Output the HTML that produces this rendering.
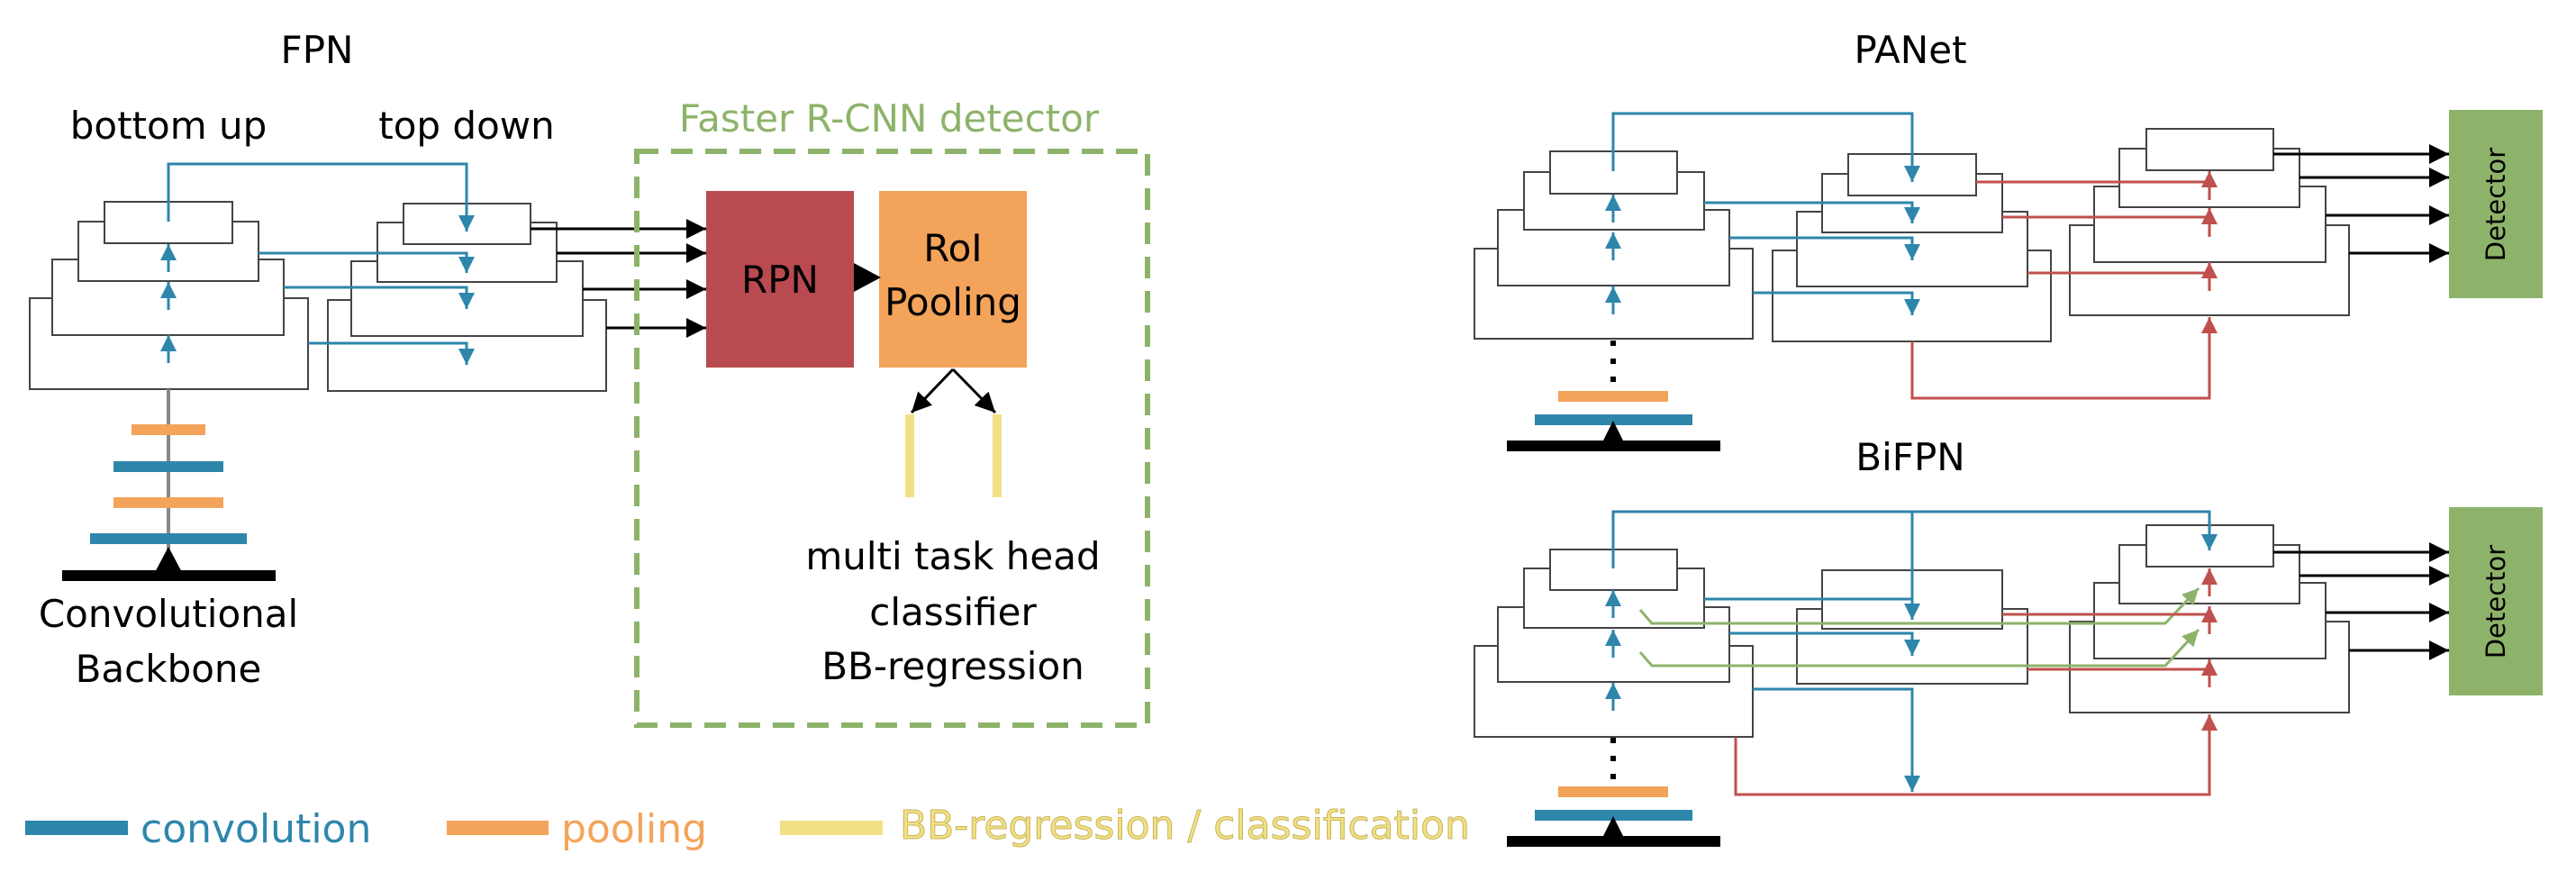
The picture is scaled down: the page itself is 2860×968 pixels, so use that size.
<!DOCTYPE html>
<html><head><meta charset="utf-8"><style>
html,body{margin:0;padding:0;background:#fff;}
svg{display:block;font-family:"DejaVu Sans","Liberation Sans",sans-serif;}
</style></head><body>
<svg width="2860" height="968" viewBox="0 0 2860 968" xmlns="http://www.w3.org/2000/svg">
<defs>
<marker id="ab" viewBox="0 0 10 10" refX="10" refY="5" markerWidth="20" markerHeight="18" markerUnits="userSpaceOnUse" orient="auto"><path d="M0,0 L10,5 L0,10 z" fill="#2e86ab"/></marker>
<marker id="ar" viewBox="0 0 10 10" refX="10" refY="5" markerWidth="20" markerHeight="18" markerUnits="userSpaceOnUse" orient="auto"><path d="M0,0 L10,5 L0,10 z" fill="#c0504d"/></marker>
<marker id="ag" viewBox="0 0 10 10" refX="10" refY="5" markerWidth="20" markerHeight="18" markerUnits="userSpaceOnUse" orient="auto"><path d="M0,0 L10,5 L0,10 z" fill="#8db36a"/></marker>
<marker id="ak" viewBox="0 0 10 10" refX="10" refY="5" markerWidth="22" markerHeight="22" markerUnits="userSpaceOnUse" orient="auto"><path d="M0,0 L10,5 L0,10 z" fill="#000"/></marker>
</defs>

<g font-size="42" text-anchor="middle" fill="#000">
<text x="352" y="70">FPN</text>
<text x="187" y="154">bottom up</text>
<text x="518" y="154">top down</text>
<text x="2121" y="70">PANet</text>
<text x="2121" y="522">BiFPN</text>
<text x="187" y="696">Convolutional</text>
<text x="187" y="757">Backbone</text>
<text x="1058" y="632">multi task head</text>
<text x="1058" y="694">classifier</text>
<text x="1058" y="754">BB-regression</text>
<text x="987" y="146" fill="#8db36a">Faster R-CNN detector</text>
</g>

<g fill="#fff" stroke="#444" stroke-width="2">
<rect x="33" y="331" width="309" height="101"/>
<rect x="58" y="288" width="257" height="84"/>
<rect x="87" y="246" width="200" height="66"/>
<rect x="116" y="224" width="142" height="46"/>
<rect x="364" y="333" width="309" height="101"/>
<rect x="390" y="290" width="257" height="83"/>
<rect x="419" y="247" width="199" height="66"/>
<rect x="448" y="226" width="141" height="45"/>
</g>
<g stroke="#2e86ab" stroke-width="3" fill="none">
<line x1="187" y1="302" x2="187" y2="271" marker-end="url(#ab)"/>
<line x1="187" y1="344" x2="187" y2="313" marker-end="url(#ab)"/>
<line x1="187" y1="403" x2="187" y2="372" marker-end="url(#ab)"/>
<polyline points="187,246 187,182 518,182 518,257" marker-end="url(#ab)"/>
<polyline points="287,281 518,281 518,303" marker-end="url(#ab)"/>
<polyline points="315,319 518,319 518,343" marker-end="url(#ab)"/>
<polyline points="342,381 518,381 518,405" marker-end="url(#ab)"/>
</g>
<line x1="187" y1="432" x2="187" y2="617" stroke="#888" stroke-width="4"/>
<g stroke="#000" stroke-width="3">
<line x1="589" y1="254" x2="784" y2="254" marker-end="url(#ak)"/>
<line x1="618" y1="281" x2="784" y2="281" marker-end="url(#ak)"/>
<line x1="647" y1="321" x2="784" y2="321" marker-end="url(#ak)"/>
<line x1="673" y1="364" x2="784" y2="364" marker-end="url(#ak)"/>
</g>
<rect x="146" y="471" width="82" height="12" fill="#f4a35a"/>
<rect x="126" y="512" width="122" height="12" fill="#2e86ab"/>
<rect x="126" y="552" width="122" height="12" fill="#f4a35a"/>
<rect x="100" y="592" width="174" height="12" fill="#2e86ab"/>
<rect x="69" y="633" width="237" height="12" fill="#000"/>
<polygon points="187,607 170,639 204,639" fill="#000"/>

<rect x="707" y="168" width="567" height="637" fill="none" stroke="#8db36a" stroke-width="6" stroke-dasharray="24,14"/>
<rect x="784" y="212" width="164" height="196" fill="#b94a50"/>
<rect x="976" y="212" width="164" height="196" fill="#f4a35a"/>
<text x="866" y="325" font-size="42" text-anchor="middle">RPN</text>
<text x="1058" y="290" font-size="42" text-anchor="middle">RoI</text>
<text x="1058" y="350" font-size="42" text-anchor="middle">Pooling</text>
<polygon points="948,292 978,308 948,324" fill="#000"/>
<g stroke="#000" stroke-width="3">
<line x1="1058" y1="410" x2="1012" y2="458" marker-end="url(#ak)"/>
<line x1="1058" y1="410" x2="1105" y2="458" marker-end="url(#ak)"/>
</g>
<rect x="1005" y="460" width="10" height="92" fill="#f2e085"/>
<rect x="1102" y="460" width="10" height="92" fill="#f2e085"/>

<rect x="28" y="911" width="114" height="16" fill="#2e86ab"/>
<text x="156" y="935" font-size="44" fill="#2e86ab">convolution</text>
<rect x="496" y="911" width="113" height="16" fill="#f4a35a"/>
<text x="623" y="935" font-size="44" fill="#f4a35a">pooling</text>
<rect x="866" y="911" width="114" height="16" fill="#f2e085"/>
<text x="999" y="931" font-size="44" fill="#f2e085" stroke="#c8b55a" stroke-width="1">BB-regression / classification</text>

<g fill="#fff" stroke="#444" stroke-width="2">
<rect x="1637" y="276" width="309" height="100"/>
<rect x="1663" y="233" width="257" height="84"/>
<rect x="1692" y="191" width="200" height="64"/>
<rect x="1721" y="168" width="141" height="47"/>
<rect x="1968" y="278" width="309" height="101"/>
<rect x="1995" y="235" width="256" height="83"/>
<rect x="2023" y="193" width="200" height="65"/>
<rect x="2052" y="171" width="142" height="46"/>
<rect x="2298" y="250" width="310" height="100"/>
<rect x="2325" y="207" width="257" height="84"/>
<rect x="2353" y="165" width="200" height="65"/>
<rect x="2383" y="143" width="141" height="46"/>
</g>
<g stroke="#2e86ab" stroke-width="3" fill="none">
<line x1="1791" y1="247" x2="1791" y2="216" marker-end="url(#ab)"/>
<line x1="1791" y1="289" x2="1791" y2="258" marker-end="url(#ab)"/>
<line x1="1791" y1="349" x2="1791" y2="318" marker-end="url(#ab)"/>
<polyline points="1791,190 1791,126 2123,126 2123,202" marker-end="url(#ab)"/>
<polyline points="1892,225 2123,225 2123,248" marker-end="url(#ab)"/>
<polyline points="1920,264 2123,264 2123,289" marker-end="url(#ab)"/>
<polyline points="1946,325 2123,325 2123,350" marker-end="url(#ab)"/>
</g>
<g stroke="#c0504d" stroke-width="3" fill="none">
<polyline points="2194,202 2453,202 2453,222"/>
<line x1="2453" y1="222" x2="2453" y2="190" marker-end="url(#ar)"/>
<polyline points="2223,241 2453,241 2453,263"/>
<line x1="2453" y1="263" x2="2453" y2="231" marker-end="url(#ar)"/>
<polyline points="2251,303 2453,303 2453,323"/>
<line x1="2453" y1="323" x2="2453" y2="291" marker-end="url(#ar)"/>
<polyline points="2123,379 2123,442 2453,442 2453,352" marker-end="url(#ar)"/>
</g>
<g stroke="#000" stroke-width="3">
<line x1="2524" y1="171" x2="2719" y2="171" marker-end="url(#ak)"/>
<line x1="2553" y1="197" x2="2719" y2="197" marker-end="url(#ak)"/>
<line x1="2582" y1="239" x2="2719" y2="239" marker-end="url(#ak)"/>
<line x1="2608" y1="281" x2="2719" y2="281" marker-end="url(#ak)"/>
</g>
<rect x="2719" y="122" width="104" height="209" fill="#8db36a"/>
<text transform="translate(2781,227) rotate(-90)" font-size="29" text-anchor="middle">Detector</text>
<line x1="1791" y1="378" x2="1791" y2="430" stroke="#000" stroke-width="6" stroke-dasharray="6,14"/>
<rect x="1730" y="434" width="122" height="12" fill="#f4a35a"/>
<rect x="1704" y="460" width="175" height="12" fill="#2e86ab"/>
<rect x="1673" y="489" width="237" height="12" fill="#000"/>
<polygon points="1791,467 1777,495 1805,495" fill="#000"/>

<g fill="#fff" stroke="#444" stroke-width="2">
<rect x="1637" y="717" width="309" height="101"/>
<rect x="1663" y="674" width="257" height="83"/>
<rect x="1692" y="631" width="200" height="66"/>
<rect x="1721" y="610" width="141" height="45"/>
<rect x="1995" y="676" width="256" height="83"/>
<rect x="2023" y="633" width="200" height="65"/>
<rect x="2298" y="690" width="310" height="101"/>
<rect x="2325" y="647" width="257" height="84"/>
<rect x="2353" y="605" width="200" height="65"/>
<rect x="2383" y="583" width="141" height="46"/>
</g>
<g stroke="#2e86ab" stroke-width="3" fill="none">
<line x1="1791" y1="686" x2="1791" y2="655" marker-end="url(#ab)"/>
<line x1="1791" y1="730" x2="1791" y2="699" marker-end="url(#ab)"/>
<line x1="1791" y1="789" x2="1791" y2="758" marker-end="url(#ab)"/>
<polyline points="1791,631 1791,568 2453,568 2453,611" marker-end="url(#ab)"/>
<line x1="2123" y1="568" x2="2123" y2="688" marker-end="url(#ab)"/>
<polyline points="1892,665 2123,665"/>
<polyline points="1920,703 2123,703 2123,728" marker-end="url(#ab)"/>
<polyline points="1946,765 2123,765 2123,879" marker-end="url(#ab)"/>
</g>
<g stroke="#8db36a" stroke-width="3" fill="none">
<polyline points="1821,677 1834,692 2404,692 2441,653" marker-end="url(#ag)"/>
<polyline points="1821,724 1834,739 2404,739 2441,699" marker-end="url(#ag)"/>
</g>
<g stroke="#c0504d" stroke-width="3" fill="none">
<line x1="2453" y1="662" x2="2453" y2="631" marker-end="url(#ar)"/>
<polyline points="2223,682 2453,682 2453,704"/>
<line x1="2453" y1="704" x2="2453" y2="673" marker-end="url(#ar)"/>
<polyline points="2251,743 2453,743 2453,763"/>
<line x1="2453" y1="763" x2="2453" y2="732" marker-end="url(#ar)"/>
<polyline points="1927,818 1927,882 2453,882 2453,793" marker-end="url(#ar)"/>
</g>
<g stroke="#000" stroke-width="3">
<line x1="2524" y1="613" x2="2719" y2="613" marker-end="url(#ak)"/>
<line x1="2553" y1="639" x2="2719" y2="639" marker-end="url(#ak)"/>
<line x1="2582" y1="680" x2="2719" y2="680" marker-end="url(#ak)"/>
<line x1="2608" y1="722" x2="2719" y2="722" marker-end="url(#ak)"/>
</g>
<rect x="2719" y="563" width="104" height="209" fill="#8db36a"/>
<text transform="translate(2781,668) rotate(-90)" font-size="29" text-anchor="middle">Detector</text>
<line x1="1791" y1="819" x2="1791" y2="866" stroke="#000" stroke-width="6" stroke-dasharray="6,14"/>
<rect x="1730" y="873" width="122" height="12" fill="#f4a35a"/>
<rect x="1704" y="899" width="175" height="12" fill="#2e86ab"/>
<rect x="1673" y="928" width="237" height="12" fill="#000"/>
<polygon points="1791,906 1777,934 1805,934" fill="#000"/>
</svg>
</body></html>
